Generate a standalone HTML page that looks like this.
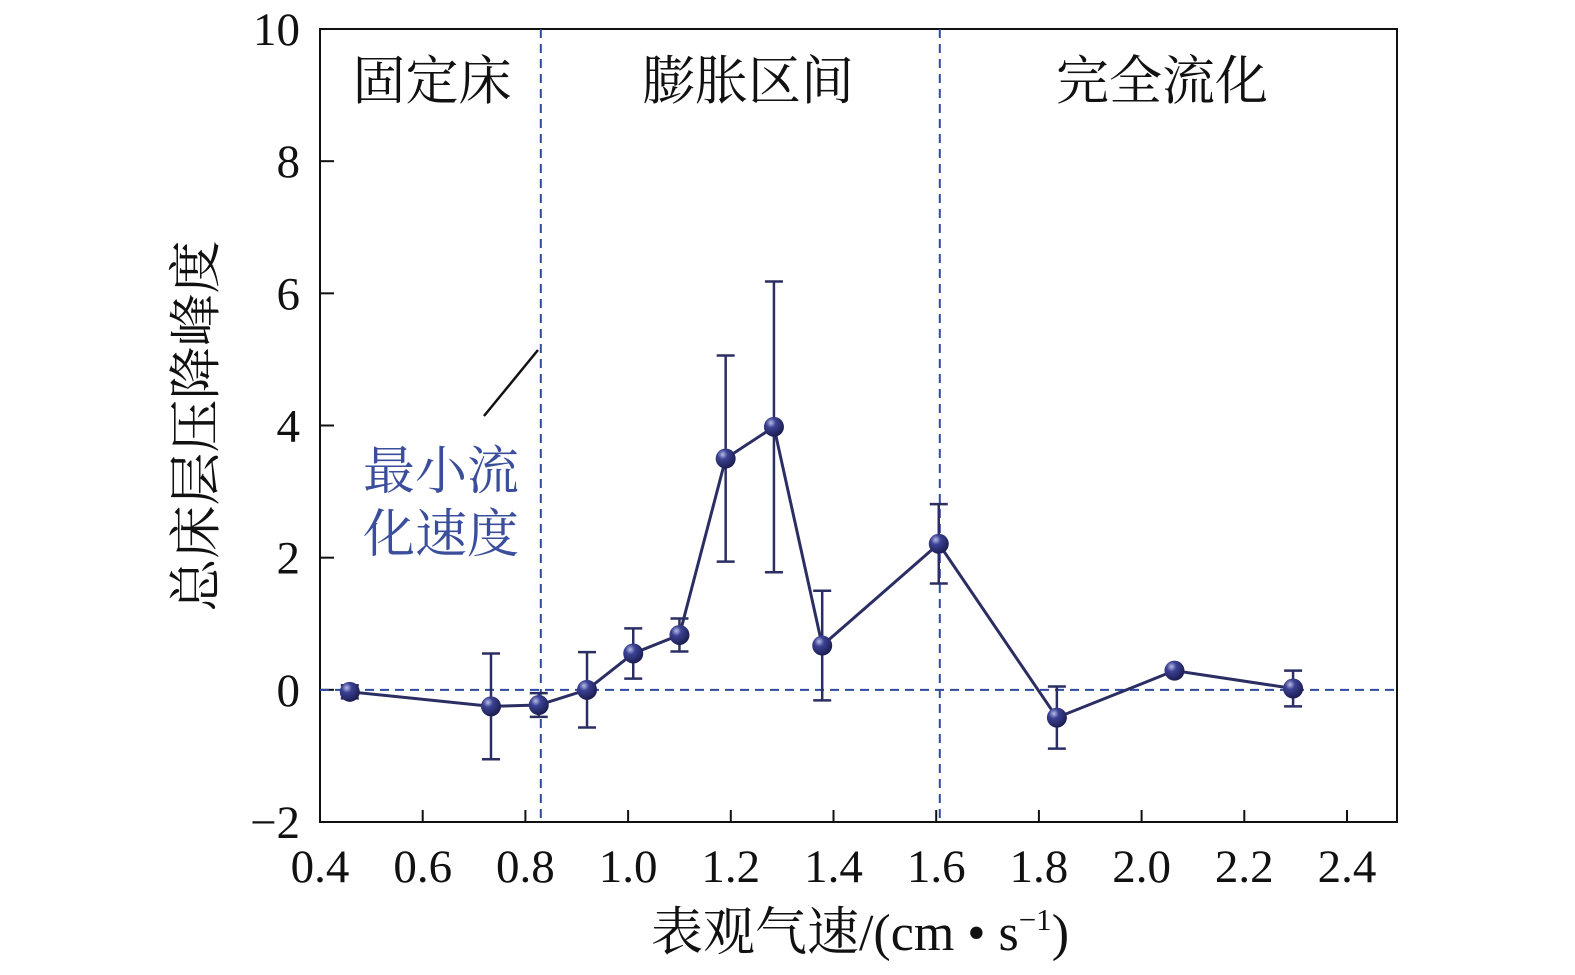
<!DOCTYPE html>
<html><head><meta charset="utf-8"><style>
html,body{margin:0;padding:0;background:#fff;}
svg text{font-family:"Liberation Serif","Noto Serif CJK SC",serif;}
</style></head><body>
<svg id="chart" width="1575" height="970" viewBox="0 0 1575 970" xmlns="http://www.w3.org/2000/svg">
<defs>
<radialGradient id="ball" cx="0.35" cy="0.3" r="0.7">
<stop offset="0" stop-color="#b8bde6"/><stop offset="0.35" stop-color="#3c4294"/><stop offset="1" stop-color="#1c1e52"/>
</radialGradient>
</defs>
<g id="axes"></g>
<g id="marks"></g>
</svg>
<script>
const xs = [0.458,0.733,0.826,0.92,1.01,1.10,1.19,1.284,1.378,1.605,1.835,2.064,2.295];
const ys = [-0.03,-0.25,-0.23,0.0,0.55,0.83,3.5,3.98,0.67,2.21,-0.42,0.29,0.02];
const errs = [0.1,0.8,0.18,0.57,0.38,0.25,1.56,2.2,0.83,0.6,0.47,0.05,0.27];
const xTicks = [0.4,0.6,0.8,1.0,1.2,1.4,1.6,1.8,2.0,2.2,2.4];
const yTicks = [-2,0,2,4,6,8,10];
const dividers = [0.83,1.607];

const L=320,R=1397,T=29,B=822;
const X=v=>320+(v-0.4)*513.5;
const Y=v=>T+(10-v)*(B-T)/12;
const NS='http://www.w3.org/2000/svg';
function mk(tag,attrs,parent,txt){const e=document.createElementNS(NS,tag);for(const k in attrs)e.setAttribute(k,attrs[k]);if(txt!==undefined)e.textContent=txt;parent.appendChild(e);return e;}
const ax=document.getElementById('axes'), mg=document.getElementById('marks');

let frame=mk('rect',{x:L,y:T,width:R-L,height:B-T,fill:'none',stroke:'#111','stroke-width':2},ax);



xTicks.forEach(v=>{
  let t=mk('line',{x1:X(v),x2:X(v),y1:B,y2:B-12,stroke:'#111','stroke-width':2},ax);
  
  
  let l=mk('text',{x:X(v),y:882,'font-size':47,'text-anchor':'middle',fill:'#111'},ax,v.toFixed(1));
  
  
});
yTicks.forEach(v=>{
  let t=mk('line',{x1:L,x2:L+14,y1:Y(v),y2:Y(v),stroke:'#111','stroke-width':2},ax);
  
  
  let l=mk('text',{x:300,y:Y(v)+16,'font-size':47,'text-anchor':'end',fill:'#111'},ax,v<0?'\u2212'+Math.abs(v):String(v));
  
  
});

let zl=mk('line',{x1:L,x2:R,y1:Y(0),y2:Y(0),stroke:'#2f4aa0','stroke-width':2,'stroke-dasharray':'9,6'},ax);


dividers.forEach(v=>{
  let d=mk('line',{x1:X(v),x2:X(v),y1:T,y2:B,stroke:'#2f4aa0','stroke-width':2,'stroke-dasharray':'9,6'},ax);
  
  
});

[['固定床',432],['膨胀区间',748],['完全流化',1162]].forEach(([s,x])=>{
  let t=mk('text',{x:x,y:99,'font-size':53,'text-anchor':'middle',fill:'#111'},ax,s);
  
  
});
let al=mk('line',{x1:484,y1:416,x2:538,y2:350,stroke:'#111','stroke-width':2.5},ax);


['最小流','化速度'].forEach((s,i)=>{
  let t=mk('text',{x:441,y:489+i*63,'font-size':52,'text-anchor':'middle',fill:'#3a4e9c'},ax,s);
  
  
});
let xt=mk('text',{x:860,y:950,'font-size':52,'text-anchor':'middle',fill:'#111'},ax);


xt.innerHTML='表观气速/(cm • s<tspan font-size="31" dy="-20">−1</tspan><tspan dy="20">)</tspan>';
let yt=mk('text',{x:0,y:0,'font-size':53,'text-anchor':'middle',fill:'#111',transform:'translate(214,426) rotate(-90)'},ax,'总床层压降峰度');



let pts=xs.map((x,i)=>X(x)+','+Y(ys[i])).join(' ');
let pl=mk('polyline',{points:pts,fill:'none',stroke:'#2b2e63','stroke-width':3},mg);


xs.forEach((x,i)=>{
  const cx=X(x),y1=Y(ys[i]+errs[i]),y2=Y(ys[i]-errs[i]);
  let g=mk('g',{},mg);
  
  
  mk('line',{x1:cx,x2:cx,y1:y1,y2:y2,stroke:'#2b2e63','stroke-width':2.5},g);
  mk('line',{x1:cx-9,x2:cx+9,y1:y1,y2:y1,stroke:'#2b2e63','stroke-width':2.5},g);
  mk('line',{x1:cx-9,x2:cx+9,y1:y2,y2:y2,stroke:'#2b2e63','stroke-width':2.5},g);
  let c=mk('circle',{cx:cx,cy:Y(ys[i]),r:10,fill:'url(#ball)'},mg);
  
  
});
</script>
</body></html>
